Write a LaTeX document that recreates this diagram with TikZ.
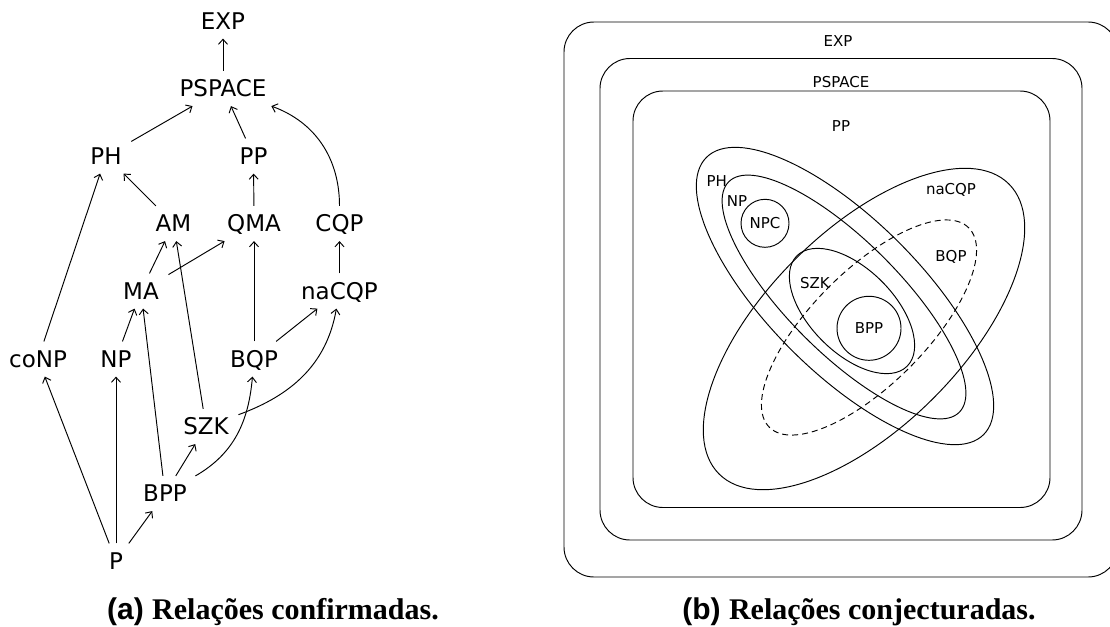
\documentclass[tikz,border=0pt]{standalone}
\usepackage{fontspec}
\newfontfamily\dv{DejaVu Sans}
\newfontfamily\capsans{Liberation Sans}
\newfontfamily\capserif{Liberation Serif}
\usetikzlibrary{arrows.meta}
\begin{document}
\begin{tikzpicture}[x=1pt,y=1pt,
  lab/.style={font=\dv\fontsize{23}{27}\selectfont, inner xsep=9.5pt, inner ysep=9pt, text height=16.8pt, text depth=0pt},
  rlab/.style={font=\dv\fontsize{15}{18}\selectfont, inner sep=0pt, text height=11pt, text depth=0pt},
  arr/.style={-{Straight Barb[length=5pt,width=9pt]}, line width=0.95pt},
  ln/.style={line width=0.95pt},
  box/.style={ln, rounded corners=30pt},
  capt/.style={anchor=base, inner sep=0pt, font=\fontsize{30}{36}\selectfont}]
\useasboundingbox (0,0) rectangle (1110,-626);
\clip (0,0) rectangle (1110,-626);
% ---------- (a) confirmed relations ----------
\node[lab] (EXP) at (223,-21) {EXP};
\node[lab] (PSPACE) at (223,-88.5) {PSPACE};
\node[lab] (PH) at (106,-156) {PH};
\node[lab] (PP) at (253.5,-156) {PP};
\node[lab] (AM) at (173.5,-223.5) {AM};
\node[lab] (QMA) at (254,-223.5) {QMA};
\node[lab] (CQP) at (339.5,-223.5) {CQP};
\node[lab] (MA) at (141,-291) {MA};
\node[lab] (naCQP) at (339.5,-291) {naCQP};
\node[lab] (coNP) at (38,-359) {coNP};
\node[lab] (NP) at (116,-359) {NP};
\node[lab] (BQP) at (254,-359) {BQP};
\node[lab] (SZK) at (206,-426.5) {SZK};
\node[lab] (BPP) at (165,-493.5) {BPP};
\node[lab] (P) at (116,-561) {P};

\draw[arr] (PSPACE) -- (EXP);
\draw[arr] (PH) -- (PSPACE);
\draw[arr] (PP) -- (PSPACE);
\draw[arr] (CQP) to[out=90,in=-20] (PSPACE);
\draw[arr] (QMA) -- (PP);
\draw[arr] (AM) -- (PH);
\draw[arr] (MA) -- (AM);
\draw[arr] (MA) -- (QMA);
\draw[arr] (naCQP) -- (CQP);
\draw[arr] (SZK) -- (AM);
\draw[arr] (BQP) -- (QMA);
\draw[arr] (BQP) -- (naCQP);
\draw[arr] (SZK) to[out=20,in=-100] (naCQP);
\draw[arr] (BPP) to[out=30,in=-95] (BQP);
\draw[arr] (BPP) -- (SZK);
\draw[arr] (BPP) -- (MA);
\draw[arr] (NP) -- (MA);
\draw[arr] (P) -- (coNP);
\draw[arr] (P) -- (NP);
\draw[arr] (P) -- (BPP);
\draw[arr] (coNP) -- (PH);

\node[capt] (capa) at (273,-619) {\capsans\bfseries (a) \capserif\bfseries Relações confirmadas.};

% ---------- (b) conjectured relations ----------
\draw[box] (564,-22) rectangle (1118,-577);
\draw[box] (600,-58.5) rectangle (1082,-540);
\draw[box] (633,-91) rectangle (1050,-507.5);
\node[rlab] (lEXP) at (838,-41.5) {EXP};
\node[rlab] (lPSPACE) at (841,-82) {PSPACE};
\node[rlab] (lPP) at (841,-126) {PP};

\draw[ln] (845,-296) circle [x radius=196pt, y radius=76pt, rotate=-45];
\draw[ln] (844,-297) circle [x radius=163pt, y radius=56pt, rotate=-45];
\draw[ln] (864,-329) circle [x radius=205pt, y radius=98pt, rotate=45];
\draw[ln, dash pattern=on 6pt off 4pt] (869,-327.5) circle [x radius=141pt, y radius=57pt, rotate=45];
\draw[ln] (852,-311) circle [x radius=78pt, y radius=42pt, rotate=-45];
\draw[ln] (765,-223.3) circle [radius=24pt];
\draw[ln] (869,-328.3) circle [radius=32pt];

\node[rlab] (lPH) at (716.7,-181) {PH};
\node[rlab] (lNP) at (737,-201) {NP};
\node[rlab] (lNPC) at (765,-223.3) {NPC};
\node[rlab] (lnaCQP) at (951,-189) {naCQP};
\node[rlab] (lBQP) at (951,-256) {BQP};
\node[rlab] (lSZK) at (815,-282.5) {SZK};
\node[rlab] (lBPP) at (869,-328.3) {BPP};

\node[capt] (capb) at (859,-619) {\capsans\bfseries (b) \capserif\bfseries Relações conjecturadas.};
\end{tikzpicture}
\end{document}
